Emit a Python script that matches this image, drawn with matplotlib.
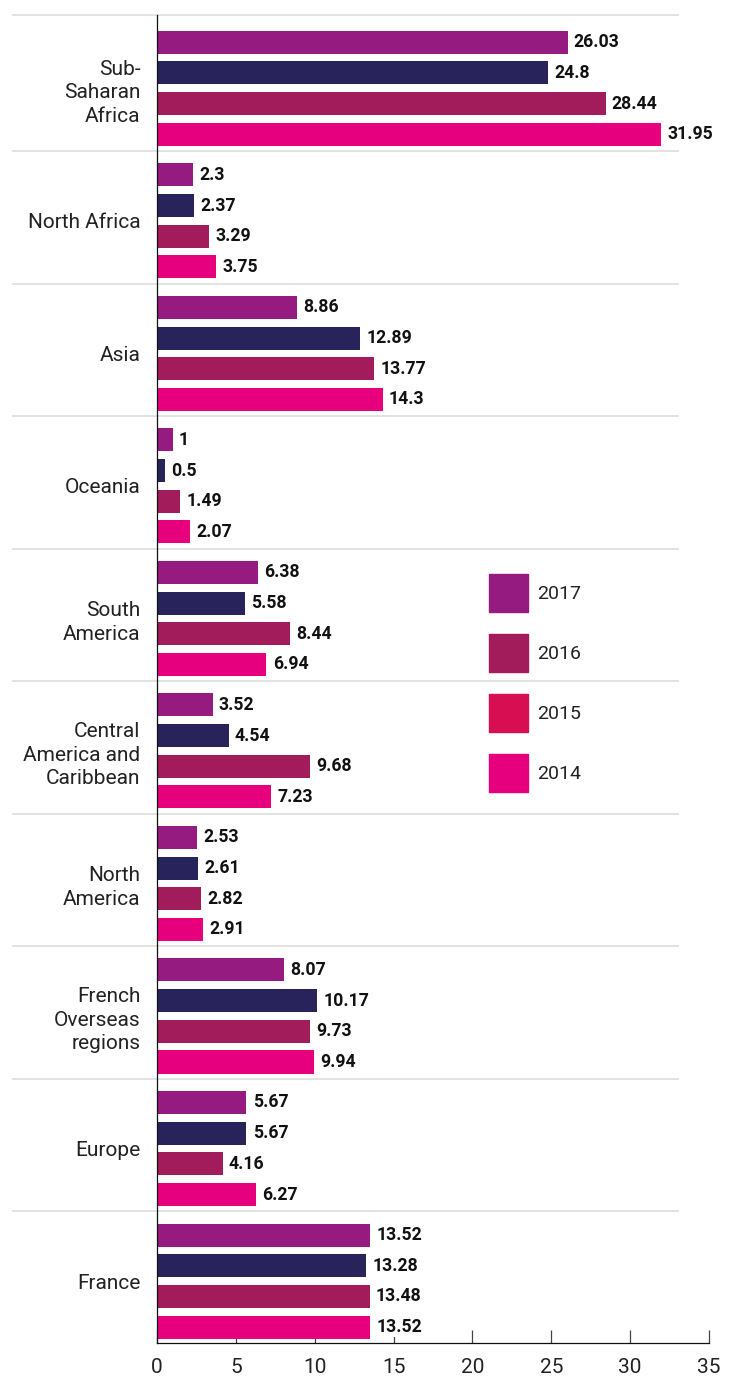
import matplotlib
matplotlib.use("Agg")
import matplotlib.pyplot as plt
from matplotlib.patches import Rectangle
from matplotlib.transforms import blended_transform_factory

plt.rcParams["font.family"] = ["Roboto", "DejaVu Sans"]

# Regions, top to bottom
categories = [
    "Sub-\nSaharan\nAfrica",
    "North Africa",
    "Asia",
    "Oceania",
    "South\nAmerica",
    "Central\nAmerica and\nCaribbean",
    "North\nAmerica",
    "French\nOverseas\nregions",
    "Europe",
    "France",
]

# Four bars per region, top bar first
series_1 = [26.03, 2.3, 8.86, 1, 6.38, 3.52, 2.53, 8.07, 5.67, 13.52]
series_2 = [24.8, 2.37, 12.89, 0.5, 5.58, 4.54, 2.61, 10.17, 5.67, 13.28]
series_3 = [28.44, 3.29, 13.77, 1.49, 8.44, 9.68, 2.82, 9.73, 4.16, 13.48]
series_4 = [31.95, 3.75, 14.3, 2.07, 6.94, 7.23, 2.91, 9.94, 6.27, 13.52]

bar_colors = ["#951B81", "#29235C", "#A21B5A", "#E6007E"]

legend_labels = ["2017", "2016", "2015", "2014"]
legend_colors = ["#951B81", "#A21B5A", "#D70F52", "#E6007E"]

x_ticks = [0, 5, 10, 15, 20, 25, 30, 35]

W, H = 734, 1377
fig = plt.figure(figsize=(W / 100, H / 100), dpi=100)
ax = fig.add_axes([157 / W, 1 - 1343 / H, (709 - 157) / W, (1343 - 15) / H])
ax.set_axisbelow(True)

group_pitch = 4.32
bar_h = 0.75
offsets = [-1.5, -0.5, 0.5, 1.5]
centers = [i * group_pitch for i in range(len(categories))]

all_series = [series_1, series_2, series_3, series_4]
for s, vals, color in zip(range(4), all_series, bar_colors):
    ys = [c + offsets[s] for c in centers]
    ax.barh(ys, vals, height=bar_h, color=color, zorder=2)
    for y, v in zip(ys, vals):
        ax.annotate(f"{v:g}", xy=(v, y), xytext=(4.5, 0), textcoords="offset points",
                    ha="left", va="center", fontsize=12.7, fontweight="bold",
                    color="#111111", zorder=3,
                    bbox=dict(boxstyle="square,pad=0.05", fc="white", ec="none"))

top = centers[0] - 2.39
bottom = centers[-1] + 2.02
ax.set_ylim(bottom, top)
ax.set_xlim(0, 35)

# Light separators between regions
trans = blended_transform_factory(ax.transAxes, ax.transData)
sep_ys = [top] + [(c + group_pitch / 2) - 0.11 for c in centers[:-1]]
for y in sep_ys:
    ax.plot([-0.261, 0.944], [y, y], transform=trans, color="#dddddd",
            lw=1.2, clip_on=False, zorder=0.5)

ax.set_yticks(centers)
ax.set_yticklabels(categories, fontsize=15, color="#222222", linespacing=1.3)
ax.tick_params(axis="y", length=0, pad=12)

ax.set_xticks(x_ticks)
ax.set_xticklabels([str(t) for t in x_ticks], fontsize=15, color="#222222")
ax.tick_params(axis="x", direction="in", length=9.5, width=0.9, color="#444444", pad=11)

for side in ("top", "right"):
    ax.spines[side].set_visible(False)
for side in ("left", "bottom"):
    ax.spines[side].set_color("#111111")
    ax.spines[side].set_linewidth(0.9)
    ax.spines[side].set_zorder(4)

# Legend swatches and labels
for i, (lab, col) in enumerate(zip(legend_labels, legend_colors)):
    ytop = 574 + 60 * i
    fig.add_artist(Rectangle((489 / W, 1 - (ytop + 38) / H), 39 / W, 38 / H,
                             transform=fig.transFigure, color=col))
    fig.text(537 / W, 1 - (ytop + 20) / H, lab, fontsize=14, color="#222222",
             ha="left", va="center")

fig.savefig("out.png", dpi=100)
